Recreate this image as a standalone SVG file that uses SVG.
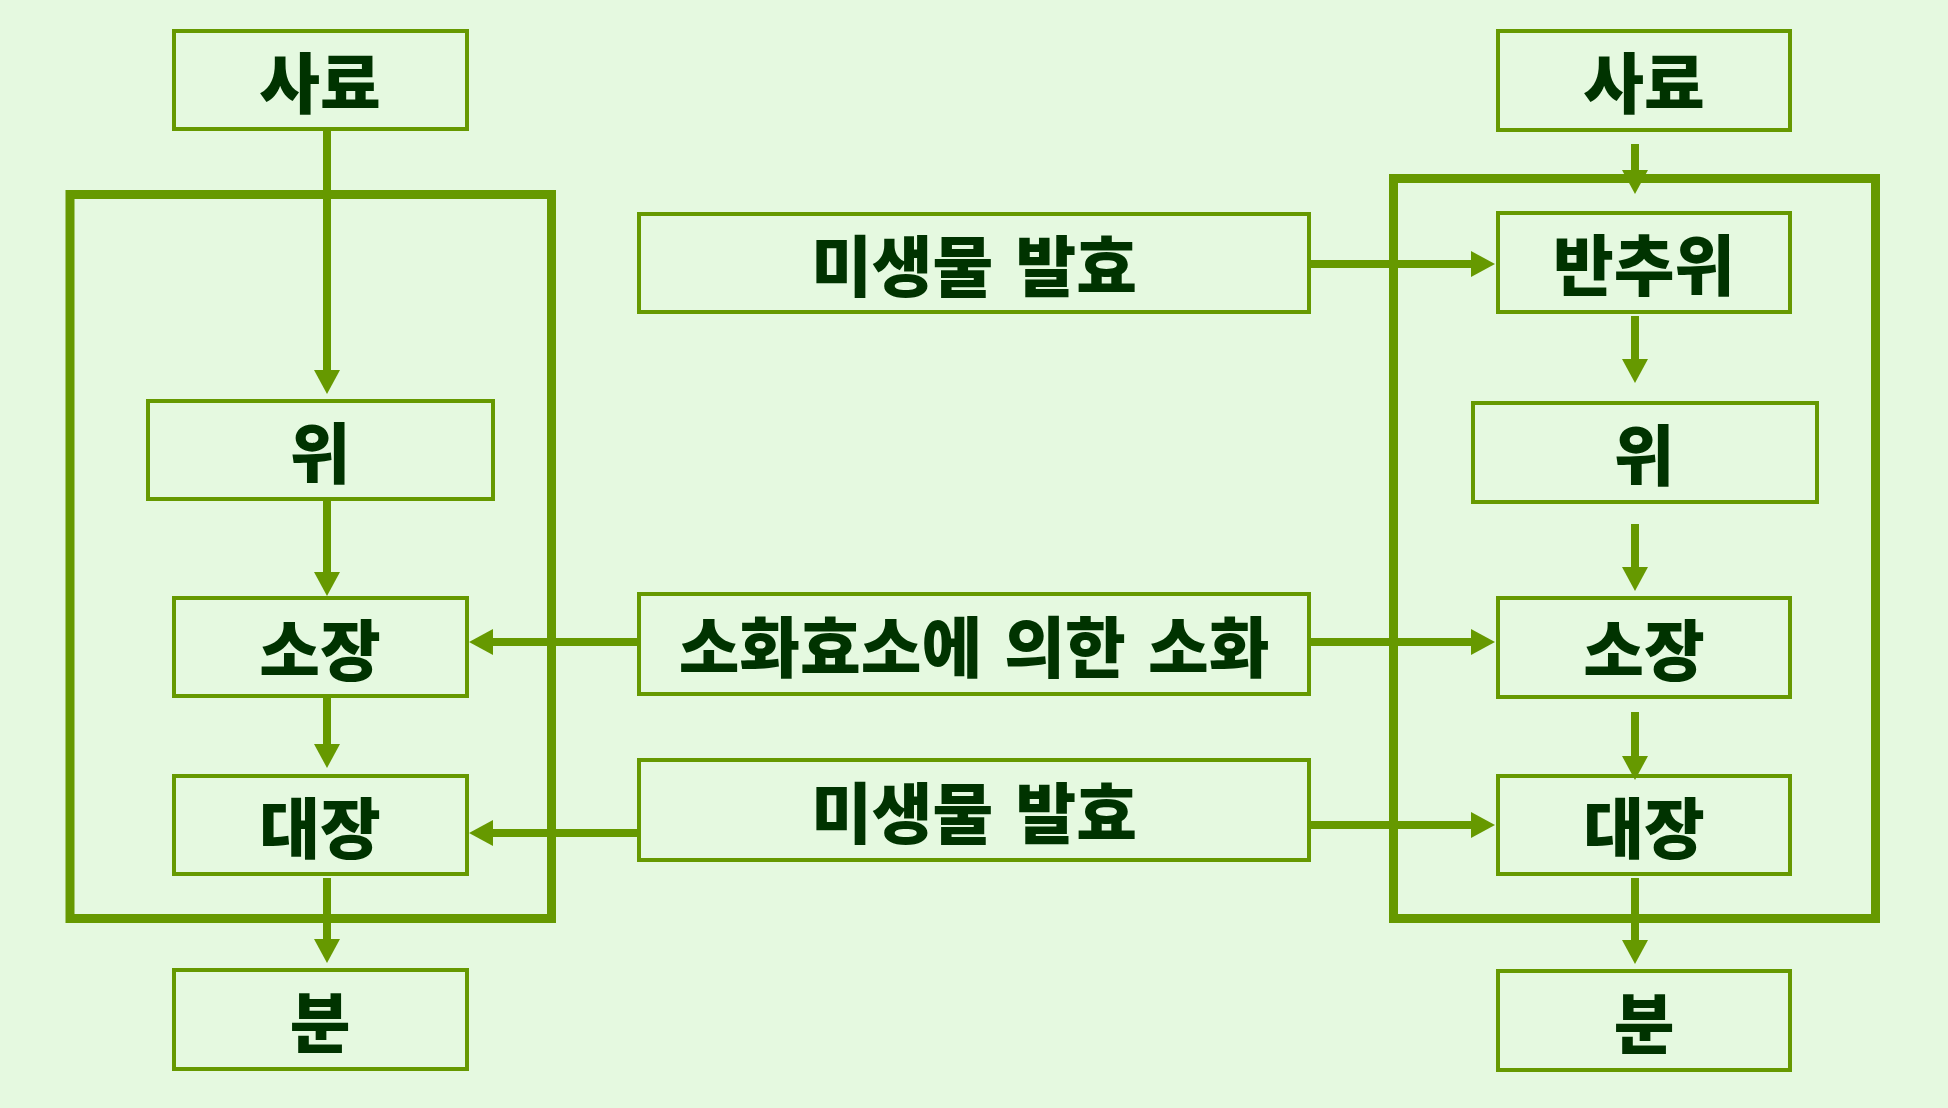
<svg xmlns="http://www.w3.org/2000/svg" width="1948" height="1108" viewBox="0 0 1948 1108">
<defs>
<style>
.bg{fill:#e5f9e0}
.box{fill:none;stroke:#669900;stroke-width:4}
.frame{fill:none;stroke:#669900;stroke-width:9}
.con{stroke:#669900;stroke-width:8;fill:none}
.t{font-family:"Noto Sans CJK KR","Noto Sans",sans-serif;font-weight:900;font-size:66px;fill:#003300;text-anchor:middle;word-spacing:7px}
</style>
<marker id="ah" markerUnits="userSpaceOnUse" markerWidth="24" markerHeight="26" refX="0" refY="13" orient="auto" overflow="visible">
<path d="M0,0 L24,13 L0,26 Z" fill="#669900"/>
</marker>
</defs>
<rect class="bg" x="0" y="0" width="1948" height="1108"/>
<g id="containers">
<rect id="left-frame" class="frame" x="70" y="194.5" width="481.5" height="724"/>
<rect id="right-frame" class="frame" x="1393.5" y="178.5" width="482" height="740"/>
</g>
<g id="left-saryo"><rect class="box" x="174" y="31" width="293" height="98"/><text class="t" x="320" y="108">사료</text></g>
<g id="left-wi"><rect class="box" x="148" y="401" width="345" height="98"/><text class="t" x="320" y="478">위</text></g>
<g id="left-sojang"><rect class="box" x="174" y="598" width="293" height="98"/><text class="t" x="320" y="675">소장</text></g>
<g id="left-daejang"><rect class="box" x="174" y="776" width="293" height="98"/><text class="t" x="320" y="853">대장</text></g>
<g id="left-bun"><rect class="box" x="174" y="970" width="293" height="99"/><text class="t" x="320" y="1047">분</text></g>
<g id="mid-ferment-top"><rect class="box" x="639" y="214" width="670" height="98"/><text class="t" x="974" y="291">미생물 발효</text></g>
<g id="mid-enzyme"><rect class="box" x="639" y="594" width="670" height="100"/><text class="t" x="974" y="672">소화효소에 의한 소화</text></g>
<g id="mid-ferment-low"><rect class="box" x="639" y="760" width="670" height="100"/><text class="t" x="974" y="838">미생물 발효</text></g>
<g id="right-saryo"><rect class="box" x="1498" y="31" width="292" height="99"/><text class="t" x="1644" y="108">사료</text></g>
<g id="right-banchuwi"><rect class="box" x="1498" y="213" width="292" height="99"/><text class="t" x="1644" y="290">반추위</text></g>
<g id="right-wi"><rect class="box" x="1473" y="403" width="344" height="99"/><text class="t" x="1644" y="480">위</text></g>
<g id="right-sojang"><rect class="box" x="1498" y="598" width="292" height="99"/><text class="t" x="1644" y="675">소장</text></g>
<g id="right-daejang"><rect class="box" x="1498" y="776" width="292" height="98"/><text class="t" x="1644" y="853">대장</text></g>
<g id="right-bun"><rect class="box" x="1498" y="971" width="292" height="99"/><text class="t" x="1644" y="1048">분</text></g>
<g id="connectors">
<line class="con" x1="327" y1="131" x2="327" y2="370" marker-end="url(#ah)"/>
<line class="con" x1="327" y1="501" x2="327" y2="572" marker-end="url(#ah)"/>
<line class="con" x1="327" y1="698" x2="327" y2="744" marker-end="url(#ah)"/>
<line class="con" x1="327" y1="878" x2="327" y2="939" marker-end="url(#ah)"/>
<line class="con" x1="637" y1="642" x2="493" y2="642" marker-end="url(#ah)"/>
<line class="con" x1="637" y1="833" x2="493" y2="833" marker-end="url(#ah)"/>
<line class="con" x1="1635" y1="144" x2="1635" y2="170" marker-end="url(#ah)"/>
<line class="con" x1="1635" y1="316" x2="1635" y2="359" marker-end="url(#ah)"/>
<line class="con" x1="1635" y1="524" x2="1635" y2="567" marker-end="url(#ah)"/>
<line class="con" x1="1635" y1="712" x2="1635" y2="756" marker-end="url(#ah)"/>
<line class="con" x1="1635" y1="878" x2="1635" y2="940" marker-end="url(#ah)"/>
<line class="con" x1="1311" y1="264" x2="1471" y2="264" marker-end="url(#ah)"/>
<line class="con" x1="1311" y1="642" x2="1471" y2="642" marker-end="url(#ah)"/>
<line class="con" x1="1311" y1="825" x2="1471" y2="825" marker-end="url(#ah)"/>
</g>
</svg>
